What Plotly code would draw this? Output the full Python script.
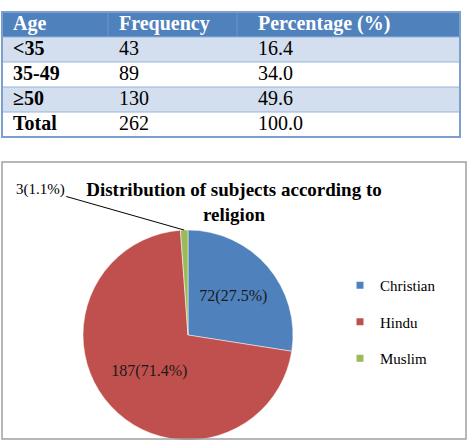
import math
import plotly.graph_objects as go

W, H = 473, 448
FONT = "Liberation Serif"

# ---- data ----
table_headers = ["Age", "Frequency", "Percentage (%)"]
age_groups = ["<35", "35-49", "≥50", "Total"]
age_freq = [43, 89, 130, 262]
age_pct = [16.4, 34.0, 49.6, 100.0]

religions = ["Christian", "Hindu", "Muslim"]
religion_counts = [72, 187, 3]
religion_colors = ["#4F81BD", "#C0504D", "#9BBB59"]
chart_title = "Distribution of subjects according to<br>religion"


def px(x):
    return x / W


def py(y):
    return 1 - y / H


fig = go.Figure()

# ---- table (drawn on its own hidden cartesian axes, 1 unit = 1 px horizontally) ----
T_L, T_R, T_T, ROW = 2, 460, 12, 25
n_rows = len(age_groups) + 1                  # header + body rows
T_B = T_T + ROW * n_rows
T_W = T_R - T_L
col_text_x = [11, 117, 256]                   # left text position of each column
col_edges = [106, 235]                        # header separators
TFS = 20

row_kind = [0] + [1 if i % 2 == 0 else 2 for i in range(len(age_groups))]
fig.add_trace(go.Heatmap(
    z=[[k] for k in row_kind],
    x=[0, T_W],
    y=[i - 0.5 for i in range(n_rows + 1)],
    zmin=0, zmax=2,
    colorscale=[[0, "#4F81BD"], [0.5, "#D3DFEE"], [1, "#FFFFFF"]],
    showscale=False, hoverinfo="skip",
    xaxis="x2", yaxis="y2",
))

# header text
fig.add_trace(go.Scatter(
    x=col_text_x, y=[0, 0, 0], text=table_headers,
    mode="text", textposition="middle right",
    textfont=dict(family=FONT, size=TFS, color="white", weight="bold"),
    showlegend=False, hoverinfo="skip", xaxis="x2", yaxis="y2",
))
body_rows = list(range(1, n_rows))
body_cols = [
    (age_groups, "bold"),
    ([str(f) for f in age_freq], "normal"),
    ([f"{p:.1f}" for p in age_pct], "normal"),
]
for ci, (vals, wt) in enumerate(body_cols):
    fig.add_trace(go.Scatter(
        x=[col_text_x[ci]] * len(vals), y=body_rows, text=vals,
        mode="text", textposition="middle right",
        textfont=dict(family=FONT, size=TFS, color="black", weight=wt),
        showlegend=False, hoverinfo="skip", xaxis="x2", yaxis="y2",
    ))

shapes = []
# header column separators
for e in col_edges:
    shapes.append(dict(type="line", xref="paper", yref="paper",
                       x0=px(T_L + e), x1=px(T_L + e), y0=py(T_T + ROW), y1=py(T_T),
                       line=dict(color="#6D94CA", width=1)))
for i in range(1, n_rows):
    yy = T_T + ROW * i
    shapes.append(dict(type="line", xref="paper", yref="paper",
                       x0=px(T_L), x1=px(T_R), y0=py(yy), y1=py(yy),
                       line=dict(color="#95B3D7", width=1)))
shapes.append(dict(type="rect", xref="paper", yref="paper",
                   x0=px(T_L), x1=px(T_R), y0=py(T_B), y1=py(T_T),
                   line=dict(color="#7BA0CD", width=2)))
# chart box
shapes.append(dict(type="rect", xref="paper", yref="paper",
                   x0=px(2), x1=px(466), y0=py(439), y1=py(162),
                   line=dict(color="#A0A0A0", width=1.5)))

# ---- pie ----
CX, CY, R = 188, 335, 105
fig.add_trace(go.Pie(
    labels=religions,
    values=religion_counts,
    marker=dict(colors=religion_colors, line=dict(color="white", width=0.5)),
    sort=False,
    direction="clockwise",
    rotation=0,
    domain=dict(x=[px(CX - R), px(CX + R)], y=[py(CY + R), py(CY - R)]),
    texttemplate="%{value}(%{percent:.1%})",
    textposition=["inside", "inside", "none"],
    insidetextorientation="horizontal",
    textfont=dict(family=FONT, size=16, color="#1a1a1a"),
    showlegend=False,
    hoverinfo="label+value+percent",
))

# legend through dummy traces
for name, col in zip(religions, religion_colors):
    fig.add_trace(go.Scatter(
        x=[None], y=[None], mode="markers", name=name,
        legendgroup=name,
        marker=dict(symbol="square", size=7, color=col),
    ))

# Muslim outside label with leader line
total = sum(religion_counts)
start = sum(religion_counts[:2]) / total * 360
mid = start + religion_counts[2] / total * 360 / 2
tip_x = CX + R * math.sin(math.radians(mid))
tip_y = CY - R * math.cos(math.radians(mid))
m_pct = religion_counts[2] / total * 100

fig.update_layout(
    width=W, height=H,
    margin=dict(l=0, r=0, t=0, b=0),
    paper_bgcolor="white", plot_bgcolor="rgba(0,0,0,0)",
    xaxis=dict(visible=False, domain=[0.99, 1]),
    yaxis=dict(visible=False, domain=[0.99, 1]),
    xaxis2=dict(visible=False, domain=[px(T_L), px(T_R)], range=[0, T_W],
                fixedrange=True, anchor="y2"),
    yaxis2=dict(visible=False, domain=[py(T_B), py(T_T)],
                range=[n_rows - 0.5, -0.5], fixedrange=True, anchor="x2"),
    title=dict(text=chart_title, x=px(234), xanchor="center",
               y=py(196), yanchor="middle", yref="paper",
               font=dict(family=FONT, size=19, color="black", weight="bold")),
    showlegend=True,
    legend=dict(x=px(340), xanchor="left", y=py(269), yanchor="top",
                tracegroupgap=14, traceorder="grouped",
                font=dict(family=FONT, size=15, color="black"),
                bgcolor="rgba(0,0,0,0)"),
    shapes=shapes,
    annotations=[dict(
        x=px(tip_x), y=py(tip_y), xref="paper", yref="paper",
        text=f"{religion_counts[2]}({m_pct:.1f}%)",
        showarrow=True, arrowhead=0, arrowwidth=1, arrowcolor="black",
        ax=-144, ay=-41,
        font=dict(family=FONT, size=15, color="black"),
    )],
)

fig.write_html("out.html")
